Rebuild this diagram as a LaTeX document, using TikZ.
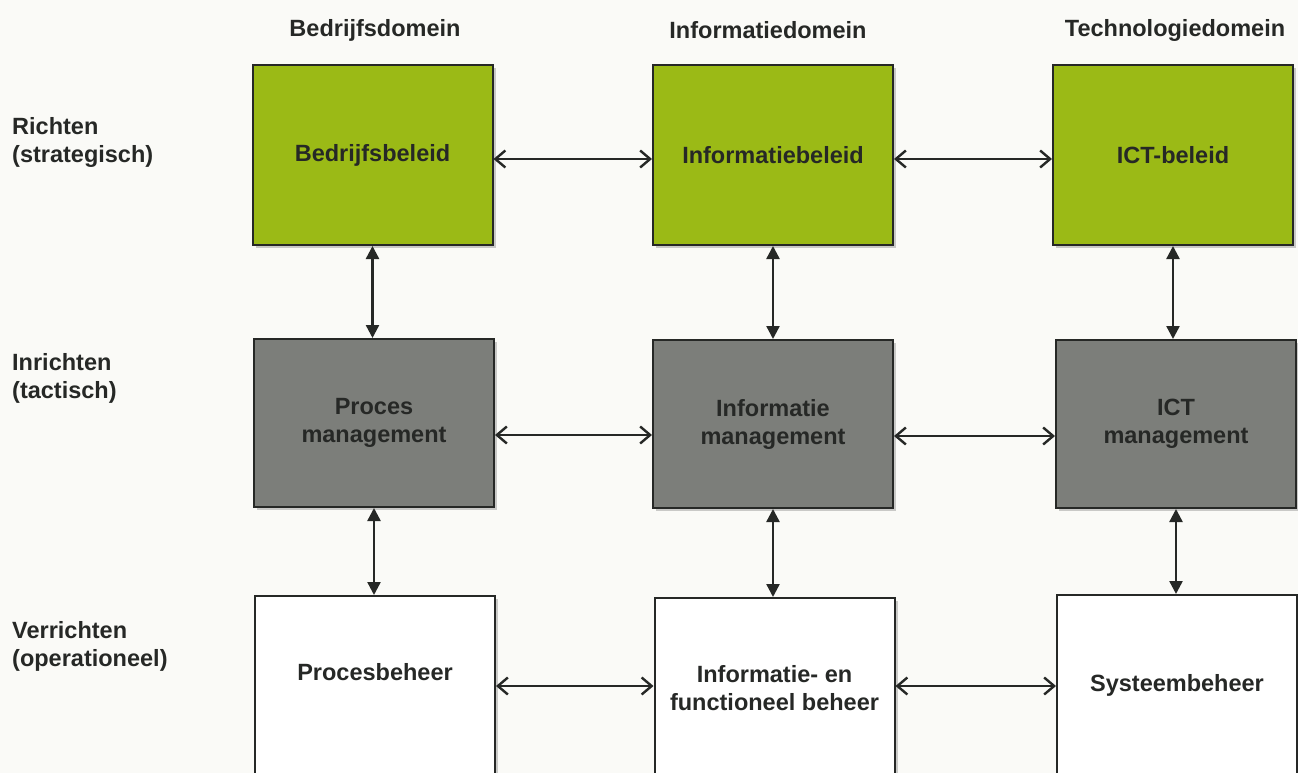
\documentclass[tikz,border=0pt]{standalone}
\usepackage{fontspec}
\setmainfont{Liberation Sans}
\usepackage{xcolor}
\usepackage{tikz}
\usetikzlibrary{
  arrows.meta,
  shadows
}
\definecolor{beleidgreen}{RGB}{155, 186, 22}
\definecolor{mgmtgray}{RGB}{124, 126, 122}
\definecolor{boxline}{RGB}{38, 40, 38}
\definecolor{paper}{RGB}{250, 250, 247}

\begin{document}
\begin{tikzpicture}[
  x=1pt, y=-1pt,
  lbl/.style={
    font=\bfseries\fontsize{23.5}{28}\selectfont, text=boxline,
    align=left, inner sep=0pt
  },
  dombox/.style={
    draw=boxline, line width=2pt,
    minimum width=240pt, minimum height=180pt,
    font=\bfseries\fontsize{23.5}{28}\selectfont, text=boxline,
    align=center, inner sep=4pt,
    drop shadow={shadow xshift=3pt, shadow yshift=-3pt, fill=black!40, opacity=0.5}
  },
  richtbox/.style={dombox, fill=beleidgreen},
  inrichtbox/.style={dombox, fill=mgmtgray, minimum height=168pt},
  verrichtbox/.style={dombox, fill=white},
  harrow/.style={
    {Straight Barb[length=10pt, width=17pt]}-{Straight Barb[length=10pt, width=17pt]},
    line width=2.4pt, draw=boxline
  },
  varrow/.style={
    {Triangle[length=13pt, width=13pt]}-{Triangle[length=13pt, width=13pt]},
    line width=2.4pt, draw=boxline
  }
]
\useasboundingbox (0,0) rectangle (1298,773);
\clip (0,0) rectangle (1298,773);
\fill[paper] (0,0) rectangle (1298,773);

% kolomkoppen
\node[lbl] (hbd) at (375, 30) {Bedrijfsdomein};
\node[lbl] (hid) at (768, 30) {Informatiedomein};
\node[lbl] (htd) at (1175, 30) {Technologiedomein};

% rijkoppen
\node[lbl, anchor=west] (rst) at (12, 142) {Richten\\(strategisch)};
\node[lbl, anchor=west] (rta) at (12, 378) {Inrichten\\(tactisch)};
\node[lbl, anchor=west] (rop) at (12, 646) {Verrichten\\(operationeel)};

% richten
\node[richtbox] (bb) at (372.5, 155) {Bedrijfsbeleid};
\node[richtbox] (ib) at (773, 155) {Informatiebeleid};
\node[richtbox] (ictb) at (1173, 155) {ICT-beleid};

% inrichten
\node[inrichtbox] (pm) at (374, 423) {Proces\\management};
\node[inrichtbox] (im) at (773, 424) {Informatie\\management};
\node[inrichtbox] (ictm) at (1176, 424) {ICT\\management};

% verrichten
\node[verrichtbox] (pb) at (375, 686) {Procesbeheer\\\mbox{}};
\node[verrichtbox] (ifb) at (774.5, 688) {Informatie- en\\functioneel beheer};
\node[verrichtbox] (sb) at (1177, 685) {Systeembeheer};

\draw[harrow] ([yshift=-4pt]bb.east) -- ([yshift=-4pt]ib.west);
\draw[harrow] ([yshift=-4pt]ib.east) -- ([yshift=-4pt]ictb.west);
\draw[harrow] ([yshift=-12pt]pm.east) -- ([yshift=-12pt]pm.east -| im.west);
\draw[harrow] ([yshift=-12pt]im.east) -- ([yshift=-12pt]im.east -| ictm.west);
\draw[harrow] (pb.east) -- (pb.east -| ifb.west);
\draw[harrow] ([yshift=2pt]ifb.east) -- ([yshift=2pt]ifb.east -| sb.west);

\draw[varrow] (bb.south) -- (bb.south |- pm.north);
\draw[varrow] (ib.south) -- (ib.south |- im.north);
\draw[varrow] (ictb.south) -- (ictb.south |- ictm.north);
\draw[varrow] (pm.south) -- (pm.south |- pb.north);
\draw[varrow] (im.south) -- (im.south |- ifb.north);
\draw[varrow] (ictm.south) -- (ictm.south |- sb.north);
\end{tikzpicture}
\end{document}
